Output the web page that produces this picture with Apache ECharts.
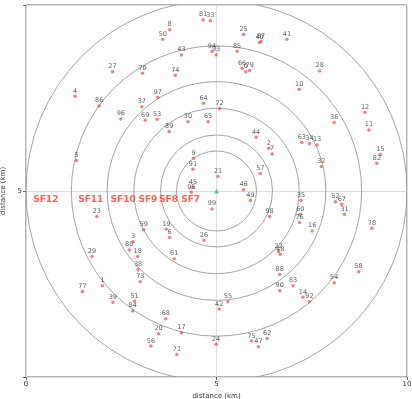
<!DOCTYPE html>
<html>
<head>
<meta charset="utf-8">
<script src="https://cdn.jsdelivr.net/npm/echarts@6/dist/echarts.min.js"></script>
<style>
  html, body { margin: 0; padding: 0; background: #fff; }
  #chart { width: 412px; height: 399px; }
</style>
</head>
<body>
<div id="chart"></div>
<script>
// Node ids and positions (km)
const nodeIds = [0,1,2,3,4,5,6,7,8,9,10,11,12,13,14,15,16,17,18,19,20,21,22,23,24,25,26,27,28,29,30,31,32,33,34,35,36,37,38,39,40,41,42,43,44,45,46,47,48,49,50,51,52,53,54,55,56,57,58,59,60,61,62,63,64,65,66,67,68,69,70,71,72,73,74,75,76,77,78,79,80,81,82,83,84,85,86,87,88,89,90,91,92,93,94,95,96,97,98,99];
const nodeX = [5.77,2.01,6.37,2.81,1.29,1.32,3.77,6.46,3.77,4.40,7.17,9.00,8.90,7.64,7.27,9.30,7.51,4.08,2.93,3.68,3.48,5.04,6.63,1.86,4.99,5.71,4.67,2.27,7.71,1.73,4.25,8.36,7.75,4.84,7.44,7.22,8.09,3.04,2.94,2.28,6.13,6.85,5.07,4.08,6.04,4.38,5.71,6.10,6.67,5.89,3.59,2.85,8.12,3.44,8.09,5.30,3.28,6.15,8.73,3.09,7.20,3.89,6.33,7.24,4.66,4.78,5.67,8.29,3.67,3.13,3.06,3.96,5.08,3.00,3.92,5.92,7.18,1.48,9.08,5.87,2.71,4.65,9.21,7.01,2.80,5.54,1.92,6.17,6.66,3.76,6.66,4.38,7.44,4.99,4.88,4.34,2.49,3.46,6.39,4.88];
const nodeY = [8.13,2.51,6.12,3.67,7.49,5.80,3.78,5.97,9.23,5.86,7.67,6.60,7.07,6.21,2.21,5.96,3.95,1.28,3.28,4.00,1.25,5.38,3.41,4.33,0.98,9.11,3.71,8.13,8.15,3.28,6.82,4.39,5.64,9.47,6.25,4.75,6.80,7.21,2.93,2.08,8.90,8.98,1.90,8.57,6.41,5.10,5.03,0.91,3.34,4.75,8.98,2.11,4.72,6.88,2.59,2.09,0.93,5.46,2.88,3.98,4.39,3.22,1.13,6.27,7.30,6.82,8.22,4.65,1.65,6.86,8.09,0.71,7.16,2.62,8.04,1.06,4.17,2.36,4.02,8.16,3.45,9.49,5.73,2.51,1.85,8.67,7.23,8.93,2.81,6.56,2.38,5.57,2.09,8.57,8.66,4.97,6.89,7.46,4.33,4.53];

// Gateway position and spreading-factor range boundaries (km)
const gateway = [5, 5];
const sfRadii = [1.05, 1.47, 2.17, 2.87, 3.81, 5.0];
const sfNames = ['SF7', 'SF8', 'SF9', 'SF10', 'SF11', 'SF12'];
const sfLabelX = [4.32, 3.74, 3.20, 2.55, 1.70, 0.52];
const sfLabelY = 4.78;

// Axis ranges
const xTicks = [0, 5, 10];
const yMin = 0.118, yMax = 9.882;

const FONT = 'DejaVu Sans';

const chart = echarts.init(document.getElementById('chart'), null, { renderer: 'canvas' });

const nodes = nodeIds.map((id, i) => ({ name: String(id), value: [nodeX[i], nodeY[i]] }));
const sfLabels = sfNames.map((n, i) => ({ name: n, value: [sfLabelX[i], sfLabelY] }));

chart.setOption({
  animation: false,
  backgroundColor: '#fff',
  grid: {
    left: 26, right: 5, top: 5, bottom: 22,
    show: true, borderColor: '#666', borderWidth: 1,
    outerBoundsMode: 'none'
  },
  xAxis: {
    type: 'value', min: xTicks[0], max: xTicks[2], interval: 5,
    name: 'distance (km)', nameLocation: 'middle', nameGap: 13,
    nameTextStyle: { fontFamily: FONT, fontSize: 7, color: '#333' },
    axisLine: { show: false },
    axisTick: { show: true, length: 3, lineStyle: { color: '#666' } },
    axisLabel: { fontFamily: FONT, fontSize: 7, color: '#333', margin: 4 },
    splitLine: { show: true, lineStyle: { color: '#dedede', width: 1 } }
  },
  yAxis: {
    type: 'value', min: yMin, max: yMax, interval: (yMax - yMin) / 2,
    name: 'distance (km)', nameLocation: 'middle', nameGap: 16, nameRotate: 90,
    nameTextStyle: { fontFamily: FONT, fontSize: 7, color: '#333' },
    axisLine: { show: false },
    axisTick: { show: true, length: 3, lineStyle: { color: '#666' } },
    axisLabel: {
      fontFamily: FONT, fontSize: 7, color: '#333', margin: 4,
      formatter: v => (Math.abs(v - 5) < 0.01 ? '5' : '')
    },
    splitLine: { show: true, lineStyle: { color: '#dedede', width: 1 } }
  },
  series: [
    {
      // SF range rings around the gateway, clipped to the plot area
      type: 'custom',
      data: sfRadii.map(r => [gateway[0], gateway[1], r]),
      silent: true,
      z: 2,
      renderItem: (params, api) => {
        const c = api.coord([api.value(0), api.value(1)]);
        const r = api.size([api.value(2), 0])[0];
        const cs = params.coordSys;
        return {
          type: 'circle',
          shape: { cx: c[0], cy: c[1], r: r },
          style: { fill: 'none', stroke: '#9a9a9a', lineWidth: 0.9 },
          clipPath: { type: 'rect', shape: { x: cs.x, y: cs.y, width: cs.width, height: cs.height } }
        };
      }
    },
    {
      // end devices
      type: 'scatter',
      data: nodes,
      symbol: 'circle',
      symbolSize: 3.5,
      z: 4,
      itemStyle: { color: 'rgba(232,60,60,0.8)' },
      label: {
        show: true, position: 'top', distance: 0,
        formatter: p => p.name,
        fontFamily: FONT, fontSize: 6.5, color: '#333'
      }
    },
    {
      // gateway
      type: 'scatter',
      data: [gateway],
      symbol: 'triangle',
      symbolSize: 5,
      z: 5,
      itemStyle: { color: '#2fb8b8' }
    },
    {
      // SF zone names
      type: 'scatter',
      data: sfLabels,
      symbolSize: 0,
      z: 6,
      label: {
        show: true, position: 'inside',
        formatter: p => p.name,
        fontFamily: FONT, fontSize: 9, fontWeight: 'bold', color: '#f5402a'
      }
    }
  ]
});
</script>
</body>
</html>
